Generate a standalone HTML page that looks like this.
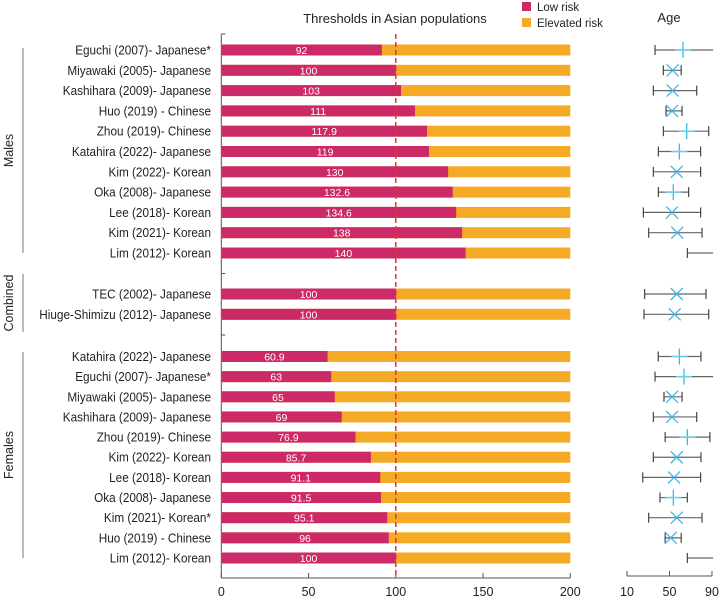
<!DOCTYPE html>
<html><head><meta charset="utf-8"><style>
body{margin:0;background:#fff}
svg{display:block;font-family:"Liberation Sans",sans-serif}
</style></head><body>
<svg id="chart" width="719" height="601" viewBox="0 0 719 601"></svg>
<script>
const labels=["Eguchi (2007)- Japanese*","Miyawaki (2005)- Japanese","Kashihara (2009)- Japanese","Huo (2019) - Chinese","Zhou (2019)- Chinese","Katahira (2022)- Japanese","Kim (2022)- Korean","Oka (2008)- Japanese","Lee (2018)- Korean","Kim (2021)- Korean","Lim (2012)- Korean",
"TEC (2002)- Japanese","Hiuge-Shimizu (2012)- Japanese",
"Katahira (2022)- Japanese","Eguchi (2007)- Japanese*","Miyawaki (2005)- Japanese","Kashihara (2009)- Japanese","Zhou (2019)- Chinese","Kim (2022)- Korean","Lee (2018)- Korean","Oka (2008)- Japanese","Kim (2021)- Korean*","Huo (2019) - Chinese","Lim (2012)- Korean"];
const lowRisk=[92,100,103,111,117.9,119,130,132.6,134.6,138,140,100,100,60.9,63,65,69,76.9,85.7,91.1,91.5,95.1,96,100];
const valueLabels=["92","100","103","111","117.9","119","130","132.6","134.6","138","140","100","100","60.9","63","65","69","76.9","85.7","91.1","91.5","95.1","96","100"];
const ageLow=[36.4,44.2,34.8,46.7,44.2,39.5,34.8,39.5,25.4,30.4,66.8,26.6,26,39.4,36.4,44.8,34.8,45.9,34.8,24.8,41,30.4,45.9,66.8];
const ageHigh=[91,61,75.6,61.8,86.9,79.3,79.3,68,79.3,80.6,91,84.4,86.9,79.6,91,61.8,75.6,88,79.6,79.3,66.8,80.6,61,91];
const ageCenter=[62.7,53,53,52.4,66.2,59.3,56.8,53.6,52.4,57.3,null,56.8,54.9,59.3,63.6,52.4,52.4,66.8,56.8,54.3,53.6,56.8,51.2,null];
const markerType=["+","x","x","x","+","+","x","+","x","x","","x","x","+","+","x","x","+","x","x","+","x","x",""];
const xTicks=[0,50,100,150,200];
const ageTicks=[10,50,90];
const threshold=100;
const maxVal=200;

const svg=document.getElementById('chart');
const NS='http://www.w3.org/2000/svg';
function mk(t,a,p){const e=document.createElementNS(NS,t);for(const k in a)e.setAttribute(k,a[k]);(p||svg).appendChild(e);return e;}
const X0=221.3,X1=570.3;
const xs=v=>X0+(X1-X0)*v/maxVal;
const ax=v=>627+(v-10)*85/80;
const rowY=[];
for(let i=0;i<24;i++){let y;if(i<11)y=50+i*20.3;else if(i<13)y=294+(i-11)*20.3;else y=356.5+(i-13)*20.15;rowY.push(y);}

let t=mk('text',{x:395,y:23,'text-anchor':'middle','font-size':13,fill:'#222'});t.textContent='Thresholds in Asian populations';

t=mk('text',{x:669,y:22,'text-anchor':'middle','font-size':13,fill:'#222'});t.textContent='Age';


let lg=mk('g',{});
mk('rect',{x:522,y:2,width:9,height:9,fill:'#cc2966'},lg);
t=mk('text',{x:537,y:11,'font-size':11.5,fill:'#222'},lg);t.textContent='Low risk';
mk('rect',{x:522,y:18,width:9,height:9,fill:'#f5aa25'},lg);
t=mk('text',{x:537,y:27,'font-size':11.5,fill:'#222'},lg);t.textContent='Elevated risk';

const groups=[["Males",48,253],["Combined",274,332],["Females",352,558]];
groups.forEach(g=>{const gg=mk('g',{});
mk('line',{x1:23,x2:23,y1:g[1],y2:g[2],stroke:'#777','stroke-width':1},gg);
const cy=(g[1]+g[2])/2;const tt=mk('text',{x:13,y:cy,'text-anchor':'middle','font-size':12.5,fill:'#222',transform:`rotate(-90 13 ${cy})`},gg);tt.textContent=g[0];});

mk('line',{x1:X0,x2:X0,y1:34,y2:578,stroke:'#555','stroke-width':1});
[34,273.5,335].forEach(y=>mk('line',{x1:X0,x2:X0+4,y1:y,y2:y,stroke:'#555','stroke-width':1}));
mk('line',{x1:X0,x2:X1,y1:578,y2:578,stroke:'#555','stroke-width':1});
xTicks.forEach(v=>{mk('line',{x1:xs(v),x2:xs(v),y1:573,y2:578,stroke:'#555'});
 const tk=mk('text',{x:xs(v),y:596,'text-anchor':'middle','font-size':12.5,fill:'#222'});tk.textContent=v;
 });

labels.forEach((l,i)=>{const y=rowY[i];
 const g=mk('g',{});
 const lt=mk('text',{x:211,y:y+4.5,'text-anchor':'end','font-size':12.5,fill:'#222'},g);lt.textContent=l;
 lt.setAttribute('transform',`translate(211 0) scale(0.94 1) translate(-211 0)`);
 mk('rect',{x:xs(0),y:y-5.5,width:xs(maxVal)-xs(0),height:11,fill:'#f5aa25'},g);
 const b=mk('rect',{x:xs(0),y:y-5.5,width:xs(lowRisk[i])-xs(0),height:11,fill:'#cc2966'},g);
 
 const vt=mk('text',{x:(xs(0)+xs(lowRisk[i]))/2,y:y+4,'text-anchor':'middle','font-size':10.5,fill:'#fff'},g);vt.textContent=valueLabels[i];
});
const dl=mk('line',{x1:xs(threshold),x2:xs(threshold),y1:34,y2:578,stroke:'#d9343f','stroke-width':1.5,'stroke-dasharray':'5,3'});


mk('line',{x1:ax(10),x2:ax(90),y1:576,y2:576,stroke:'#555'});
ageTicks.forEach(v=>{mk('line',{x1:ax(v),x2:ax(v),y1:571,y2:576,stroke:'#555'});
 const tk=mk('text',{x:ax(v),y:596,'text-anchor':'middle','font-size':12.5,fill:'#222'});tk.textContent=v;
 });
labels.forEach((l,i)=>{const y=rowY[i];
 const g=mk('g',{});
 const lo=ax(ageLow[i]),hi=ax(ageHigh[i]);
 mk('line',{x1:lo,x2:hi,y1:y,y2:y,stroke:'#666','stroke-width':1.2},g);
 mk('line',{x1:lo,x2:lo,y1:y-5,y2:y+5,stroke:'#444','stroke-width':1.2},g);
 if(ageHigh[i]<90)mk('line',{x1:hi,x2:hi,y1:y-5,y2:y+5,stroke:'#444','stroke-width':1.2},g);
 if(ageCenter[i]!==null){const c=ax(ageCenter[i]);
  if(markerType[i]==='+'){mk('line',{x1:c,x2:c,y1:y-8,y2:y+8,stroke:'#3ab8e8','stroke-width':1.3},g);mk('line',{x1:c-8,x2:c+8,y1:y,y2:y,stroke:'#6fcdf0','stroke-width':1.6},g);}
  else{mk('line',{x1:c-6,x2:c+6,y1:y-6,y2:y+6,stroke:'#3ab8e8','stroke-width':1.3},g);mk('line',{x1:c-6,x2:c+6,y1:y+6,y2:y-6,stroke:'#3ab8e8','stroke-width':1.3},g);}
 }
});
</script>
</body></html>
